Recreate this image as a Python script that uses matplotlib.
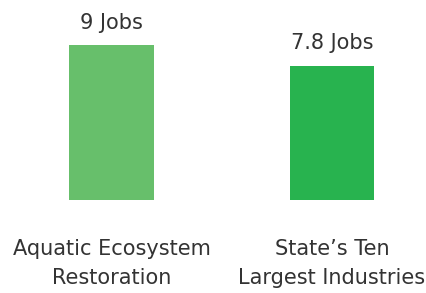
import matplotlib
matplotlib.use("Agg")
import matplotlib.pyplot as plt

categories = ["Aquatic Ecosystem\nRestoration", "State\u2019s Ten\nLargest Industries"]
values = [9, 7.8]
value_labels = ["9 Jobs", "7.8 Jobs"]
colors = ["#67bf6b", "#28b34f"]

W, H = 426, 293
fig = plt.figure(figsize=(W / 100, H / 100), dpi=100)
ax = fig.add_axes([0, (H - 200) / H, 1, 200 / H])
x = [0, 1]
ax.bar(x, values, width=0.385, color=colors)
ax.set_xlim(-111.5 / 220.5, (W - 111.5) / 220.5)
ax.set_ylim(0, 200 / 17.2)
for xi, v, lab in zip(x, values, value_labels):
    ax.annotate(lab, (xi, v), xytext=(0, 12), textcoords="offset points",
                ha="center", va="baseline", fontsize=15, color="#333333")
ax.set_xticks(x)
ax.set_xticklabels(categories, fontsize=15, color="#333333", linespacing=1.55)
ax.tick_params(axis="x", length=0, pad=28)
ax.set_yticks([])
for s in ax.spines.values():
    s.set_visible(False)
fig.savefig("out.png", dpi=100)
